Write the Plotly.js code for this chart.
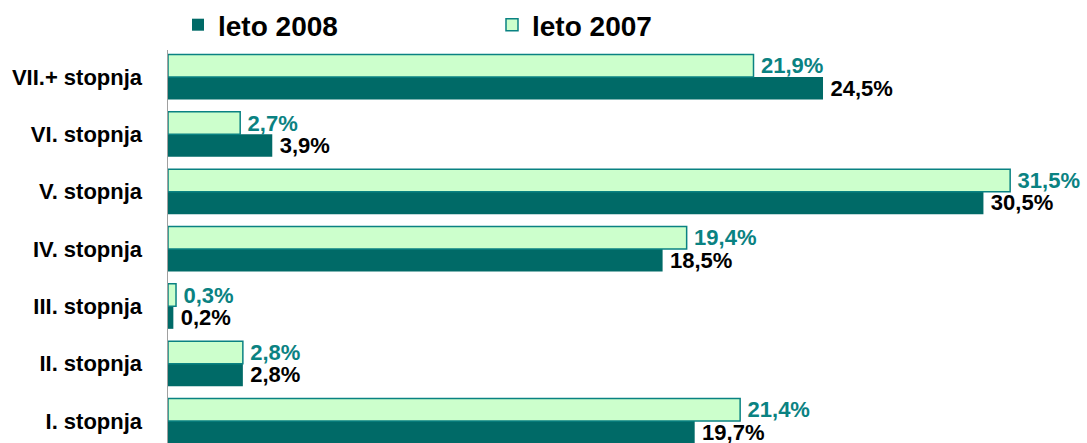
<!DOCTYPE html>
<html>
<head>
<meta charset="utf-8">
<script src="https://cdn.plot.ly/plotly-3.0.1.min.js"></script>
<style>html,body{margin:0;padding:0;background:#fff}#chart{width:1087px;height:443px}</style>
</head>
<body>
<div id="chart"></div>
<script>
const categories = ["I. stopnja","II. stopnja","III. stopnja","IV. stopnja","V. stopnja","VI. stopnja","VII.+ stopnja"];
const values2008 = [19.7, 2.8, 0.2, 18.5, 30.5, 3.9, 24.5];
const values2007 = [21.4, 2.8, 0.3, 19.4, 31.5, 2.7, 21.9];
const seriesNames = ["leto 2008", "leto 2007"];

const font = "Liberation Sans, Arial, sans-serif";

const traces = [
  {
    type: "bar", orientation: "h", name: seriesNames[0],
    y: categories, x: values2008,
    marker: {color: "#006a67", line: {color: "#004a48", width: 0}},
    texttemplate: "\u2009%{x:.1f}%", textposition: "outside", cliponaxis: false,
    textfont: {family: font, size: 22, color: "#000000", weight: "bold"},
    hoverinfo: "skip"
  },
  {
    type: "bar", orientation: "h", name: seriesNames[1],
    y: categories, x: values2007,
    marker: {color: "#ccffcc", line: {color: "#0a8282", width: 1.5}},
    texttemplate: "\u2009%{x:.1f}%", textposition: "outside", cliponaxis: false,
    textfont: {family: font, size: 22, color: "#0a8282", weight: "bold"},
    hoverinfo: "skip"
  }
];

const layout = {
  width: 1087, height: 443,
  margin: {l: 168, r: 10, t: 50, b: 0},
  paper_bgcolor: "#ffffff", plot_bgcolor: "#ffffff",
  separators: ",.",
  barmode: "group", bargap: 0.215, bargroupgap: 0,
  uniformtext: {mode: false},
  showlegend: true,
  legend: {
    orientation: "h", x: 0.011, xanchor: "left", y: 1.0, yanchor: "top",
    xref: "paper", yref: "container",
    font: {family: font, size: 28, color: "#000000", weight: "bold"},
    entrywidth: 269, traceorder: "normal"
  },
  xaxis: {
    range: [0, 34], showgrid: false, zeroline: false, showticklabels: false,
    showline: false, ticks: ""
  },
  yaxis: {
    type: "category", range: [-0.384, 6.471], autorange: false,
    showgrid: false, zeroline: false, showline: true, linecolor: "#a0a0a0", linewidth: 1.5,
    ticks: "", ticklabelstandoff: 20,
    tickfont: {family: font, size: 22, color: "#000000", weight: "bold"}
  }
};
traces.forEach(t => t.constraintext = "none");

Plotly.newPlot("chart", traces, layout, {displayModeBar: false, staticPlot: true});
</script>
</body>
</html>
